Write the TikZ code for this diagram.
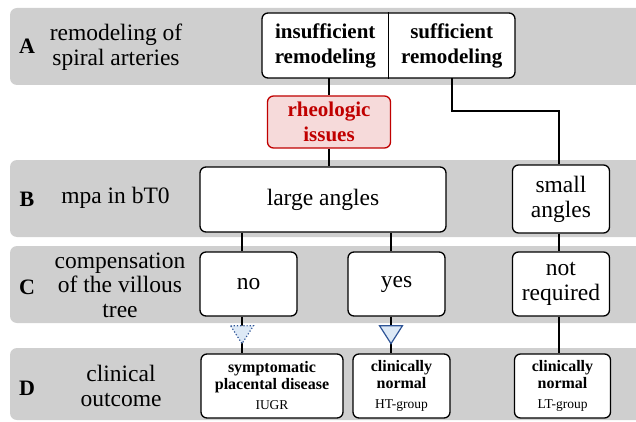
\documentclass[tikz,border=0pt]{standalone}
\usepackage{fontspec}
\setmainfont{Liberation Serif}
\usetikzlibrary{positioning, calc}
\definecolor{bandgray}{HTML}{CFCFCF}
\definecolor{alertred}{HTML}{C00000}
\definecolor{alertfill}{HTML}{F6DADA}
\definecolor{tipblue}{HTML}{DDE9F6}
\definecolor{tipedge}{HTML}{2F5597}
\newcommand{\groupfont}{\mdseries\fontsize{13.5}{14}\selectfont}
\tikzset{
  band/.style={fill=bandgray, rounded corners=7pt},
  rowletter/.style={font=\bfseries\fontsize{22}{24}\selectfont},
  rowlabel/.style={font=\fontsize{23.5}{24.5}\selectfont, align=center},
  stage/.style={rectangle, rounded corners=6pt, draw=black, line width=1.3pt, fill=white,
    align=center, font=\fontsize{23.5}{25}\selectfont, inner sep=0pt},
  remhalf/.style={rectangle, minimum width=126pt, minimum height=65pt, align=center,
    font=\bfseries\fontsize{21}{25}\selectfont, inner sep=0pt},
  alertbox/.style={stage, draw=alertred, fill=alertfill, text=alertred, font=\bfseries\fontsize{21}{25}\selectfont},
  outcome/.style={stage, font=\bfseries\fontsize{16}{16.5}\selectfont},
  link/.style={line width=1.8pt, black},
  tipsolid/.style={fill=tipblue, draw=tipedge, line width=1.2pt, line join=miter},
  tipdotted/.style={tipsolid, dotted},
}

\begin{document}
\begin{tikzpicture}[x=1pt, y=-1pt]
    \useasboundingbox (0,0) rectangle (636,422);
    % rows
    \fill[band] (10,8) rectangle (660,85);
    \fill[band] (10,160) rectangle (660,237);
    \fill[band] (10,246) rectangle (660,323);
    \fill[band] (10,348) rectangle (660,420);

    \node[rowletter] (letA) at (27,46) {A};
    \node[rowlabel] (rowA) at (116,47) {remodeling of\\spiral arteries};
    \node[rowletter] (letB) at (27,199) {B};
    \node[rowlabel] (rowB) at (115.5,198) {mpa in bT0};
    \node[rowletter] (letC) at (27,287) {C};
    \node[rowlabel] (rowC) at (120,285) {compensation\\of the villous\\tree};
    \node[rowletter] (letD) at (27,388) {D};
    \node[rowlabel] (rowD) at (121,386) {clinical\\outcome};

    % boxes
    \node[stage, minimum width=253pt, minimum height=65pt] (remod) at (388.5,45.5) {};
    \node[remhalf, anchor=east] (insuf) at (remod.center) {insufficient\\remodeling};
    \node[remhalf, anchor=west] (suf) at (remod.center) {sufficient\\remodeling};
    \draw[line width=1pt] (remod.north) -- (remod.south);

    \node[alertbox, minimum width=123pt, minimum height=52pt] (rheo) at (329,122) {rheologic\\issues};

    \node[stage, minimum width=246pt, minimum height=65pt] (large) at (323,199.5) {large angles};
    \node[stage, minimum width=97pt, minimum height=68pt] (small) at (561,199) {small\\angles};

    \node[stage, minimum width=97pt, minimum height=64pt] (no) at (248.5,284) {no};
    \node[stage, minimum width=97pt, minimum height=64pt] (yes) at (396.5,284) {yes};
    \node[stage, minimum width=97pt, minimum height=64pt] (notreq) at (561,284) {not\\required};

    \node[outcome, minimum width=142pt, minimum height=64pt] (symp) at (272,386)
      {symptomatic\\placental disease\\[4pt]{\groupfont IUGR}};
    \node[outcome, minimum width=97pt, minimum height=64pt] (htn) at (401.5,386)
      {clinically\\normal\\[4pt]{\groupfont HT-group}};
    \node[outcome, minimum width=96pt, minimum height=64pt] (ltn) at (562.5,386)
      {clinically\\normal\\[4pt]{\groupfont LT-group}};

    % connectors
    \coordinate (bend) at (559,111);
    \draw[link] (rheo.north |- insuf.south) -- (rheo.north);
    \draw[link] (suf.south) |- (bend) -- (bend |- small.north);
    \draw[link] (rheo.south) -- (rheo.south |- large.north);
    \draw[link] ([xshift=-6.5pt]no.north |- large.south) -- ([xshift=-6.5pt]no.north);
    \draw[link] ([xshift=-5.5pt]yes.north |- large.south) -- ([xshift=-5.5pt]yes.north);
    \draw[link] (bend |- small.south) -- (bend |- notreq.north);
    \draw[link] ([xshift=-6.5pt]no.south) -- ([xshift=-6.5pt]no.south |- symp.north);
    \draw[link] ([xshift=-5.5pt]yes.south) -- ([xshift=-5.5pt]yes.south |- htn.north);
    \draw[link] (bend |- notreq.south) -- (bend |- ltn.north);

    % triangles
    \coordinate (tipno) at ([xshift=-6.5pt, yshift=-9pt]no.south);
    \coordinate (tipyes) at ([xshift=-5.5pt, yshift=-9pt]yes.south);
    \filldraw[tipdotted] (tipno) ++(-11.5,0) -- ++(23,0) -- ++(-11.5,18) -- cycle;
    \filldraw[tipsolid] (tipyes) ++(-11.5,0) -- ++(23,0) -- ++(-11.5,18) -- cycle;
\end{tikzpicture}
\end{document}
